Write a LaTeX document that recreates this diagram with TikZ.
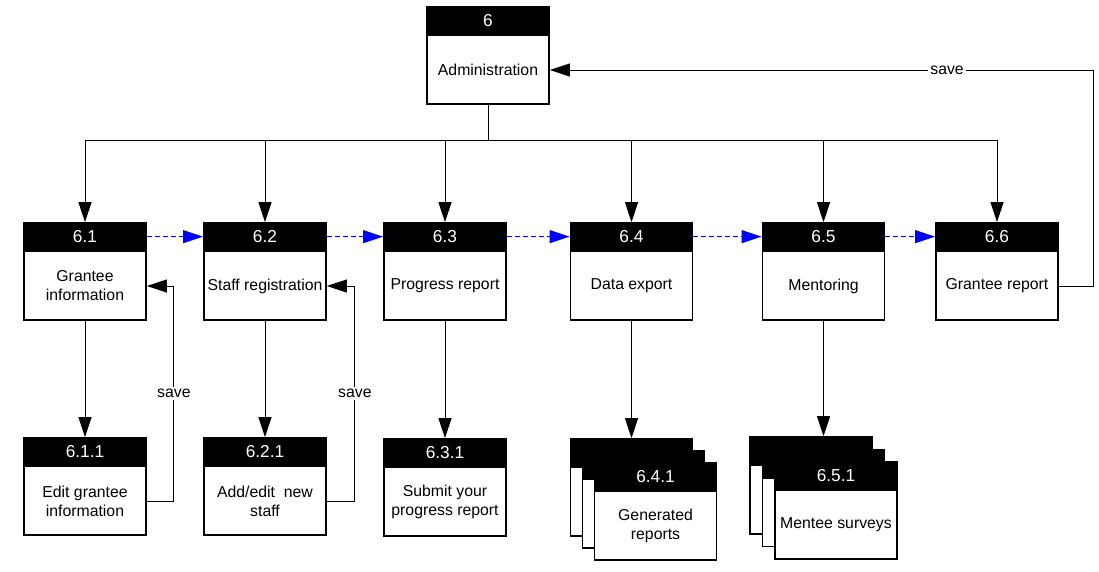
\documentclass[tikz,border=0pt]{standalone}
\usepackage{fontspec}
\setmainfont{Liberation Sans}
\usetikzlibrary{arrows.meta,calc}

\tikzset{
  pbox/.style={draw, line width=1.8pt, fill=white, minimum width=122pt, minimum height=97pt, inner sep=0pt,
    path picture={\fill[black] (path picture bounding box.north west) rectangle ([yshift=-29pt]path picture bounding box.north east);}},
  hdr/.style={text=white, inner sep=0pt, font=\fontsize{17.3}{20}\selectfont},
  bodytxt/.style={align=center, inner sep=0pt, font=\fontsize{15.8}{19}\selectfont},
  lbl/.style={fill=white, inner sep=2pt, font=\fontsize{15.8}{19}\selectfont},
  conn/.style={line width=1pt, -{Triangle[length=20pt,width=13pt]}},
  seq/.style={line width=1pt, blue, dash pattern=on 5pt off 3pt, -{Triangle[length=20pt,width=13pt]}},
}

% process box: name, position, number, caption
\newcommand\pbx[4]{%
  \node[pbox] (#1) at (#2) {};
  \node[hdr] (#1-h) at ([yshift=-14.5pt]#1.north) {#3};
  \node[bodytxt] (#1-t) at ([yshift=-14.5pt]#1.center) {#4};
}

\begin{document}
\begin{tikzpicture}[x=1pt, y=-1pt]
\useasboundingbox (0,0) rectangle (1099,571);

% top level
\pbx{n6}{488,55.5}{6}{Administration}

% second level
\pbx{n61}{85,271.5}{6.1}{Grantee\\information}
\pbx{n62}{265,271.5}{6.2}{Staff registration}
\pbx{n63}{445,271.5}{6.3}{Progress report}
\pbx{n64}{631.5,271.5}{6.4}{Data export}
\pbx{n65}{823.5,271.5}{6.5}{Mentoring}
\pbx{n66}{997,271.5}{6.6}{Grantee report}

% third level
\pbx{n611}{85,486.5}{6.1.1}{Edit grantee\\information}
\pbx{n621}{265,486.5}{6.2.1}{Add/edit\ \ new\\staff}
\pbx{n631}{445,487.5}{6.3.1}{Submit your\\progress report}

% stacked (multiple) documents
\node[pbox] (n641c) at (631.5,487.5) {};
\node[pbox] (n641b) at (643.5,499.5) {};
\pbx{n641}{655.5,511.5}{6.4.1}{Generated\\reports}

\node[pbox] (n651c) at (811,485.5) {};
\node[pbox] (n651b) at (823.5,498) {};
\pbx{n651}{836,510.5}{6.5.1}{Mentee surveys}

% tree from Administration
\coordinate (bus) at (488,140);
\draw[line width=1pt] (n6.south) -- (bus);
\foreach \c in {n61,n62,n63,n64,n65,n66}
  \draw[conn] (bus) -| (\c.north);

% sequence arrows
\draw[seq] (n61-h -| n61.east) -- (n62-h -| n62.west);
\draw[seq] (n62-h -| n62.east) -- (n63-h -| n63.west);
\draw[seq] (n63-h -| n63.east) -- (n64-h -| n64.west);
\draw[seq] (n64-h -| n64.east) -- (n65-h -| n65.west);
\draw[seq] (n65-h -| n65.east) -- (n66-h -| n66.west);

% down to sub-processes
\draw[conn] (n61.south) -- (n611.north);
\draw[conn] (n62.south) -- (n621.north);
\draw[conn] (n63.south) -- (n631.north);
\draw[conn] (n64.south) -- (n64.south |- n641c.north);
\draw[conn] (n65.south) -- (n65.south |- n651c.north);

% save loops
\draw[conn] (n611-t -| n611.east) -- ++(27,0) |- node[lbl, pos=0.25] {save} (n61-t -| n61.east);
\draw[conn] (n621-t -| n621.east) -- ++(28,0) |- node[lbl, pos=0.25] {save} (n62-t -| n62.east);
\draw[conn] (n66-t -| n66.east) -- ++(35,0) |- node[lbl, pos=0.635] {save} (n6-t -| n6.east);
\end{tikzpicture}
\end{document}
